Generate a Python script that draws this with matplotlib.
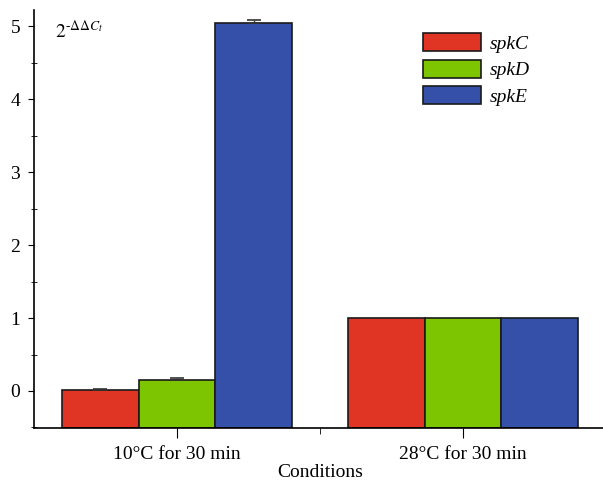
import matplotlib
matplotlib.use("Agg")
import matplotlib.pyplot as plt
import numpy as np

conditions = ["10°C for 30 min", "28°C for 30 min"]
genes = ["spkC", "spkD", "spkE"]
spkC = [0.02, 1.0]
spkD = [0.145, 1.0]
spkE = [5.04, 1.0]
spkC_err = [0.004, 0.0]
spkD_err = [0.035, 0.0]
spkE_err = [0.04, 0.0]
colors = ["#E03424", "#7DC500", "#3550A8"]

plt.rcParams['font.family'] = ['Liberation Serif', 'DejaVu Serif']
plt.rcParams['mathtext.fontset'] = 'stix'

fig = plt.figure(figsize=(6.03, 4.83), dpi=100)
ax = fig.add_axes([34/603, 55/483, 572/603, 418/483])

ymin, ymax = -0.507, 5.22
x = np.arange(len(conditions))
w = 0.268
series = [spkC, spkD, spkE]
errs = [spkC_err, spkD_err, spkE_err]
for i, (vals, er, c, g) in enumerate(zip(series, errs, colors, genes)):
    pos = x + (i - 1) * w
    heights = [v - ymin for v in vals]
    ax.bar(pos, heights, bottom=ymin, width=w, color=c, edgecolor="#1a1a1a",
           linewidth=1.2, label=g, zorder=2)
    for p, v, e in zip(pos, vals, er):
        if e > 0:
            ax.errorbar(p, v, yerr=[[0], [e]], fmt='none', ecolor='#333333',
                        elinewidth=1, capsize=5, capthick=1.2, zorder=3)

ax.set_xlim(-0.5, 1.5)
ax.set_ylim(ymin, ymax)
ax.set_yticks([0, 1, 2, 3, 4, 5])
ax.set_yticks(np.arange(-0.5, 5.01, 0.5), minor=True)
ax.set_xticks(x)
ax.set_xticklabels(conditions)
ax.set_xticks([0.5], minor=True)
ax.spines['top'].set_visible(False)
ax.spines['right'].set_visible(False)
ax.tick_params(axis='y', which='major', direction='out', length=4, labelsize=14, pad=6)
ax.tick_params(axis='y', which='minor', direction='inout', length=4)
ax.tick_params(axis='x', which='major', direction='out', length=7, labelsize=14, pad=6)
ax.tick_params(axis='x', which='minor', direction='out', length=4)
for s in ['left', 'bottom']:
    ax.spines[s].set_linewidth(1.2)

ax.set_xlabel("Conditions", fontsize=14, labelpad=1)
fig.text(55/603, 452/483, r"$2^{\mathrm{\text{-}}\Delta\Delta C_t}$", fontsize=14,
         va='center', ha='left')

leg = ax.legend(loc='upper left', bbox_to_anchor=(0.66, 0.972), frameon=False,
                prop={'style': 'italic', 'size': 14}, handlelength=2.95,
                handleheight=1.05, labelspacing=0.35, handletextpad=0.45,
                borderaxespad=0.2)

fig.savefig("out.png", dpi=100)
